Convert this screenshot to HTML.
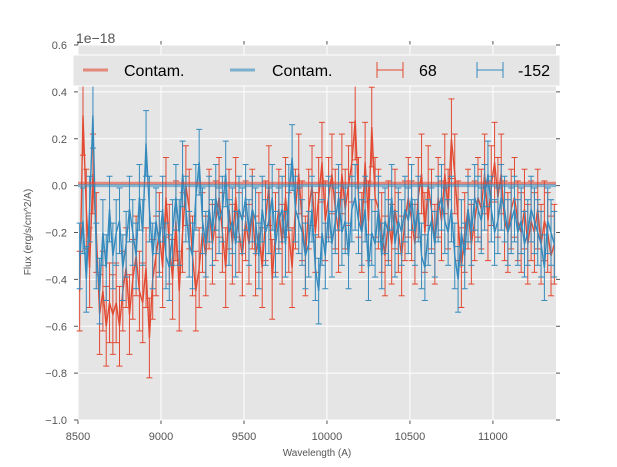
<!DOCTYPE html>
<html><head><meta charset="utf-8"><style>
html,body{margin:0;padding:0;background:#fff;}
svg{display:block;font-family:"Liberation Sans","DejaVu Sans",sans-serif;}
</style></head><body>
<svg id="chart" width="617" height="467" viewBox="0 0 617 467" xmlns="http://www.w3.org/2000/svg"></svg>
<script>
const xTicks = [8500, 9000, 9500, 10000, 10500, 11000];
const yTicks = [0.6, 0.4, 0.2, 0.0, -0.2, -0.4, -0.6, -0.8, -1.0];
const yTickLabels = ["0.6","0.4","0.2","0.0","\u22120.2","\u22120.4","\u22120.6","\u22120.8","\u22121.0"];
const wave0 = 8510, waveStep = 20;
const redFlux = [
-0.45,0.3,-0.1,-0.35,0.05,-0.2,-0.55,-0.45,-0.6,-0.5,
-0.55,-0.5,-0.6,-0.45,-0.35,-0.55,-0.4,-0.3,-0.45,-0.5,
-0.35,-0.65,-0.4,-0.3,-0.2,-0.35,-0.05,-0.25,-0.4,-0.15,
-0.45,-0.2,0.0,-0.1,-0.3,-0.45,-0.35,-0.2,-0.3,-0.1,
-0.25,-0.15,-0.05,-0.2,-0.35,-0.1,-0.25,-0.05,-0.2,-0.3,
-0.15,-0.25,-0.1,-0.3,-0.2,-0.35,-0.15,0.0,-0.4,-0.2,
-0.1,-0.25,-0.05,-0.2,-0.35,-0.1,0.05,-0.15,-0.3,-0.1,
0.0,-0.2,-0.05,0.1,-0.15,-0.05,0.05,-0.1,-0.2,0.05,
-0.1,0.0,0.1,0.28,-0.05,-0.2,0.1,-0.15,0.25,-0.05,
-0.1,-0.2,-0.3,-0.15,-0.25,-0.1,-0.2,-0.3,-0.15,-0.05,
-0.15,-0.25,-0.05,0.05,-0.2,0.0,-0.1,-0.25,-0.05,-0.15,
0.05,-0.1,0.2,0.05,-0.15,-0.35,-0.2,-0.1,-0.25,-0.15,
-0.05,-0.1,0.05,-0.15,0.0,0.1,-0.05,0.05,-0.15,-0.2,
-0.1,-0.05,-0.15,-0.2,-0.1,-0.25,-0.15,-0.2,-0.1,-0.25,
-0.15,-0.2,-0.3,-0.25];
const blueFlux = [
-0.3,-0.15,-0.4,-0.1,0.3,-0.3,-0.45,-0.2,-0.35,-0.1,
-0.3,-0.2,-0.15,-0.35,-0.25,-0.1,-0.2,-0.3,-0.05,-0.2,
0.18,-0.1,-0.3,-0.15,-0.25,-0.1,-0.3,-0.35,-0.2,-0.05,
-0.2,0.05,-0.1,-0.25,-0.3,-0.05,0.1,-0.15,-0.25,-0.1,
-0.2,-0.05,-0.15,-0.1,0.05,-0.2,-0.15,-0.25,-0.1,-0.15,
-0.05,-0.2,-0.1,-0.15,-0.3,-0.1,-0.2,-0.15,-0.05,-0.25,
-0.15,-0.1,-0.25,-0.05,0.12,-0.1,-0.15,-0.2,-0.3,-0.25,
-0.1,-0.35,-0.45,-0.2,-0.3,-0.1,-0.25,-0.15,-0.05,-0.2,
-0.15,-0.3,-0.1,-0.05,-0.15,-0.2,-0.1,-0.35,-0.2,-0.25,
-0.1,-0.3,-0.15,-0.2,-0.05,-0.25,-0.15,-0.2,-0.1,-0.15,
-0.05,-0.2,-0.1,-0.3,-0.35,-0.2,-0.15,-0.25,-0.1,-0.05,
-0.15,-0.2,-0.1,-0.3,-0.4,-0.2,-0.3,-0.1,-0.2,-0.05,
-0.1,-0.15,-0.05,0.05,-0.1,-0.2,-0.15,-0.05,-0.1,-0.2,
-0.15,-0.1,-0.2,-0.15,-0.25,-0.2,-0.1,-0.15,-0.2,-0.25,
-0.35,-0.15,-0.2,-0.25];
const redErr = [0.17];
const blueErr = [0.14];
const redContam = [0.01];
const blueContam = [0.0];

const X0=78, X1=556, Y0=45, Y1=420, XMIN=8500, XMAX=11380, YMIN=-1.0, YMAX=0.6;
const sx = v => X0 + (v-XMIN)/(XMAX-XMIN)*(X1-X0);
const sy = v => Y1 - (v-YMIN)/(YMAX-YMIN)*(Y1-Y0);
const svg = document.getElementById('chart');
const NS = "http://www.w3.org/2000/svg";
function mk(tag, attrs, parent){const e=document.createElementNS(NS,tag);for(const k in attrs)e.setAttribute(k,attrs[k]);(parent||svg).appendChild(e);return e;}

const bg = mk('rect',{x:X0,y:Y0,width:X1-X0,height:Y1-Y0,fill:'#e5e5e5'});



const grid = mk('g',{});


xTicks.forEach(t=>{mk('line',{x1:sx(t),x2:sx(t),y1:Y0,y2:Y1,stroke:'#fff','stroke-width':1},grid);
  mk('line',{x1:sx(t),x2:sx(t),y1:Y1,y2:Y1+4,stroke:'#555','stroke-width':1},grid);
  mk('line',{x1:sx(t),x2:sx(t),y1:Y0,y2:Y0-4,stroke:'#555','stroke-width':1},grid);});
yTicks.forEach(t=>{mk('line',{x1:X0,x2:X1,y1:sy(t),y2:sy(t),stroke:'#fff','stroke-width':1},grid);
  mk('line',{x1:X0-4,x2:X0,y1:sy(t),y2:sy(t),stroke:'#555','stroke-width':1},grid);
  mk('line',{x1:X1,x2:X1+4,y1:sy(t),y2:sy(t),stroke:'#555','stroke-width':1},grid);});

const xl = mk('g',{'font-size':11,fill:'#555','text-anchor':'middle'});


xTicks.forEach(t=>{const e=mk('text',{x:sx(t),y:440},xl);e.textContent=String(t);});
const yl = mk('g',{'font-size':11,fill:'#555','text-anchor':'end'});


yTicks.forEach((t,i)=>{const e=mk('text',{x:67,y:sy(t)+4},yl);e.textContent=yTickLabels[i];});

function series(vals, errArr, color, name){
  const g = mk('g',{});
  
  
  const err = errArr[0];
  vals.forEach((v,i)=>{const x=sx(wave0+i*waveStep);
    mk('line',{x1:x,x2:x,y1:sy(v-err),y2:sy(v+err),stroke:color,'stroke-width':1},g);
    mk('line',{x1:x-3,x2:x+3,y1:sy(v-err),y2:sy(v-err),stroke:color,'stroke-width':1},g);
    mk('line',{x1:x-3,x2:x+3,y1:sy(v+err),y2:sy(v+err),stroke:color,'stroke-width':1},g);});
  const pts = vals.map((v,i)=>sx(wave0+i*waveStep).toFixed(1)+','+sy(v).toFixed(1)).join(' ');
  mk('polyline',{points:pts,fill:'none',stroke:color,'stroke-width':1.4},g);
}
series(redFlux, redErr, '#e24a33', 'series-68');
series(blueFlux, blueErr, '#348abd', 'series-minus-152');

const c1 = mk('line',{x1:X0,x2:X1,y1:sy(redContam[0]),y2:sy(redContam[0]),stroke:'#e24a33','stroke-width':3,'stroke-opacity':0.6});


const c2 = mk('line',{x1:X0,x2:X1,y1:sy(blueContam[0]),y2:sy(blueContam[0]),stroke:'#348abd','stroke-width':3,'stroke-opacity':0.6});


</script>
<svg style="position:absolute;left:0;top:0" width="617" height="467" xmlns="http://www.w3.org/2000/svg">
  <text x="76" y="43" font-size="14" fill="#555">1e−18</text>
  <text x="317" y="456" font-size="10" fill="#555" text-anchor="middle">Wavelength (A)</text>
  <text transform="translate(31,232) rotate(-90)" font-size="10" fill="#555" text-anchor="middle">Flux (erg/s/cm^2/A)</text>
  <g>
    <rect x="73" y="55" width="487" height="31" fill="#e5e5e5" stroke="#fff" stroke-width="1"/>
    <line x1="83" x2="108" y1="70" y2="70" stroke="#e24a33" stroke-opacity="0.6" stroke-width="3"/>
    <text x="124" y="76" font-size="16" fill="#000">Contam.</text>
    <line x1="230" x2="255" y1="70" y2="70" stroke="#348abd" stroke-opacity="0.6" stroke-width="3"/>
    <text x="272" y="76" font-size="16" fill="#000">Contam.</text>
    <g stroke="#e24a33" stroke-width="1"><line x1="377" x2="403" y1="70" y2="70"/><line x1="377" x2="377" y1="62" y2="78"/><line x1="403" x2="403" y1="62" y2="78"/></g>
    <text x="419" y="76" font-size="16" fill="#000">68</text>
    <g stroke="#348abd" stroke-width="1"><line x1="477" x2="503" y1="70" y2="70"/><line x1="477" x2="477" y1="62" y2="78"/><line x1="503" x2="503" y1="62" y2="78"/></g>
    <text x="518" y="76" font-size="16" fill="#000">-152</text>
  </g>
</svg>
</body></html>
